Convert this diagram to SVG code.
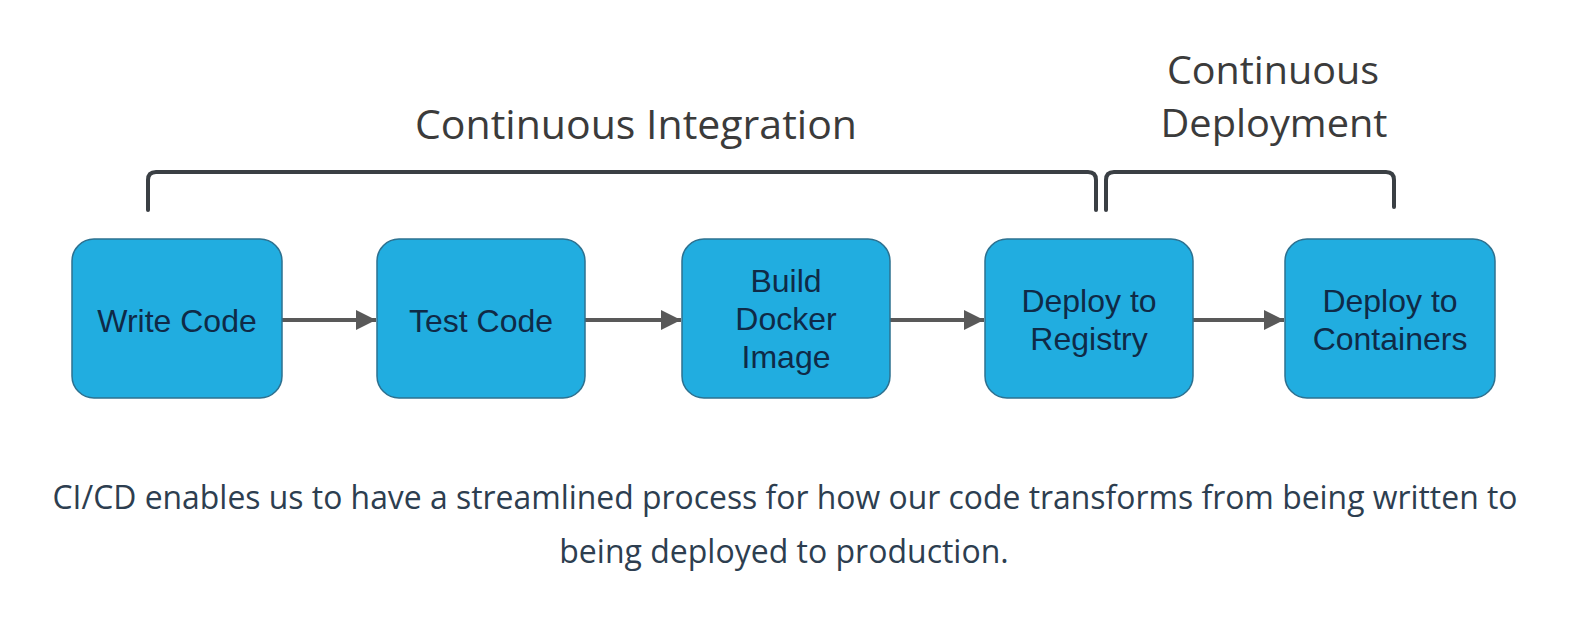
<svg xmlns="http://www.w3.org/2000/svg" width="1574" height="632" viewBox="0 0 1574 632">
<defs>
<style>
.box{fill:#21ade0;stroke:#2d7190;stroke-width:1.5}
.lbl{font-family:"Liberation Sans",Arial,sans-serif;font-size:32px;fill:#0f2a47;text-anchor:middle}
.head{font-family:"Open Sans",sans-serif;font-size:40px;fill:#3b3b3b;text-anchor:middle}
.cap{font-family:"Open Sans",sans-serif;font-size:32px;fill:#2d3e50;text-anchor:middle}
.conn{fill:none;stroke:#595959;stroke-width:4}
.brk{fill:none;stroke:#3a3f44;stroke-width:4;stroke-linecap:round}
</style>
<marker id="ah" viewBox="0 0 10 10" refX="10" refY="5" markerWidth="6" markerHeight="5" markerUnits="strokeWidth" orient="auto">
<path d="M0,0 L10,5 L0,10 Z" fill="#595959"/>
</marker>
</defs>
<rect width="1574" height="632" fill="#ffffff"/>
<g id="brackets">
<path class="brk" d="M148,210 V180 Q148,172 156,172 H1088 Q1096,172 1096,180 V210"/>
<path class="brk" d="M1106,210 V180 Q1106,172 1114,172 H1386 Q1394,172 1394,180 V207"/>
</g>
<g id="headings">
<text class="head" x="636" y="139" textLength="442" lengthAdjust="spacingAndGlyphs">Continuous Integration</text>
<text class="head" style="font-size:38px" x="1273" y="84" textLength="212" lengthAdjust="spacingAndGlyphs">Continuous</text>
<text class="head" style="font-size:38px" x="1274" y="137" textLength="227" lengthAdjust="spacingAndGlyphs">Deployment</text>
</g>
<g id="connectors">
<path class="conn" d="M282,320 H376" marker-end="url(#ah)"/>
<path class="conn" d="M585,320 H681" marker-end="url(#ah)"/>
<path class="conn" d="M890,320 H984" marker-end="url(#ah)"/>
<path class="conn" d="M1193,320 H1284" marker-end="url(#ah)"/>
</g>
<g id="write-code">
<rect class="box" x="72" y="239" width="210" height="159" rx="22"/>
<text class="lbl" x="177" y="332">Write Code</text>
</g>
<g id="test-code">
<rect class="box" x="377" y="239" width="208" height="159" rx="22"/>
<text class="lbl" x="481" y="332">Test Code</text>
</g>
<g id="build-docker-image">
<rect class="box" x="682" y="239" width="208" height="159" rx="22"/>
<text class="lbl" x="786" y="292">Build</text>
<text class="lbl" x="786" y="330">Docker</text>
<text class="lbl" x="786" y="368">Image</text>
</g>
<g id="deploy-registry">
<rect class="box" x="985" y="239" width="208" height="159" rx="22"/>
<text class="lbl" x="1089" y="312">Deploy to</text>
<text class="lbl" x="1089" y="350">Registry</text>
</g>
<g id="deploy-containers">
<rect class="box" x="1285" y="239" width="210" height="159" rx="22"/>
<text class="lbl" x="1390" y="312">Deploy to</text>
<text class="lbl" x="1390" y="350">Containers</text>
</g>
<g id="caption">
<text class="cap" x="785" y="509" textLength="1465" lengthAdjust="spacingAndGlyphs">CI/CD enables us to have a streamlined process for how our code transforms from being written to</text>
<text class="cap" x="784" y="563">being deployed to production.</text>
</g>
</svg>
